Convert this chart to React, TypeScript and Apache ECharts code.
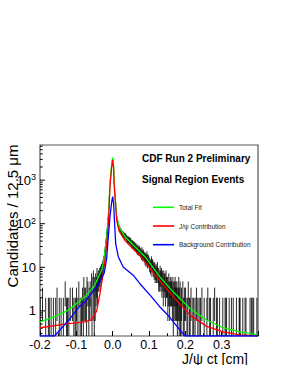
import React, { useEffect, useRef } from "react";
import * as echarts from "echarts";

const FONT = '"Liberation Sans", Arial, Helvetica, sans-serif';

const X_MIN = -0.2;
const X_MAX = 0.4;
const X_STEP = 0.1;
const BIN_WIDTH = 0.00125;
const Y_MIN = 0.265;
const Y_MAX = 6400;

const X_TICK_LABELS = ["-0.2", "-0.1", "0.0", "0.1", "0.2", "0.3"];

// Candidates per 12.5 um bin, from -0.2 cm upward
const LEFT_COUNTS = [
  1, 0, 0, 0, 0, 2, 0, 0, 0, 0,
  0, 0, 1, 0, 0, 0, 0, 0, 1, 0,
  1, 0, 0, 0, 1, 0, 0, 0, 0, 1,
  0, 0, 0, 0, 1, 0, 0, 2, 0, 0,
  0, 0, 1, 0, 0, 0, 1, 0, 0, 0,
  0, 1, 0, 0, 0, 3, 0, 0, 1, 0,
  1, 0, 0, 1, 0, 0, 2, 0, 0, 0,
  0, 2, 0, 0, 1, 0, 0, 1, 0, 1,
  2, 0, 0, 1, 0, 3, 0, 0, 1, 0,
  0, 1, 0, 2, 0, 1, 4, 0, 2, 0,
  2, 0, 1, 4, 0, 3, 0, 1, 2, 0,
  3, 0, 2, 5, 1, 0, 4, 6, 2, 1,
  4, 2, 5, 3, 4, 7, 3, 5, 6, 5,
  6, 7, 5, 8, 7, 9, 8, 10, 11, 12,
];
const PEAK_COUNTS = [
  14, 15, 21, 25, 34, 40, 57, 68, 97, 128,
  150, 240, 380, 590, 980, 1240, 1620, 2120, 2650, 3150,
  3050, 2420, 1580, 870, 590, 430, 290, 215, 150, 132,
  118, 108, 92, 89, 80, 79, 71, 72, 65, 66,
];
const TAIL_COUNTS = [
  62, 58, 60, 55, 57, 52, 54, 50, 53, 49,
  48, 45, 43, 46, 41, 44, 40, 42, 38, 41,
  37, 35, 33, 36, 32, 34, 31, 33, 29, 31,
  28, 30, 26, 27, 24, 28, 25, 23, 26, 24,
  23, 21, 22, 19, 24, 20, 18, 21, 19, 17,
  18, 15, 17, 14, 16, 19, 13, 16, 15, 14,
  13, 11, 12, 10, 11, 14, 9, 12, 11, 10,
  9, 8, 10, 7, 8, 9, 7, 8, 10, 7,
  7, 5, 6, 5, 8, 6, 5, 7, 4, 6,
  5, 3, 6, 4, 5, 5, 3, 6, 4, 4,
  4, 2, 3, 5, 3, 2, 4, 3, 4, 3,
  3, 2, 4, 1, 3, 2, 3, 4, 2, 3,
  2, 3, 1, 2, 2, 4, 1, 2, 3, 1,
  1, 2, 0, 0, 3, 1, 0, 1, 2, 0,
  2, 0, 0, 1, 0, 1, 3, 0, 0, 1,
  1, 0, 2, 0, 0, 0, 1, 0, 1, 0,
  0, 1, 0, 0, 2, 0, 0, 1, 0, 0,
  1, 0, 0, 1, 0, 0, 2, 0, 0, 0,
  0, 1, 0, 0, 0, 0, 0, 1, 0, 2,
  0, 0, 0, 1, 0, 1, 0, 0, 0, 0,
  0, 1, 0, 0, 2, 0, 0, 0, 1, 0,
  1, 0, 0, 0, 0, 1, 0, 0, 0, 0,
  0, 0, 1, 0, 0, 0, 0, 1, 0, 1,
  1, 0, 0, 0, 0, 0, 1, 0, 0, 0,
  0, 1, 0, 0, 0, 1, 0, 0, 0, 0,
  0, 0, 1, 0, 0, 0, 0, 0, 1, 1,
  1, 0, 0, 0, 0, 0, 1, 0, 0, 0,
  0, 1, 0, 1, 0, 0, 0, 0, 0, 0,
  0, 0, 1, 0, 0, 1, 0, 0, 1, 0,
  1, 0, 0, 0, 0, 0, 0, 1, 0, 0,
];

const TOTAL_FIT_X = [-0.2, -0.16, -0.122, -0.09, -0.076, -0.049, -0.035, -0.03, -0.024, -0.0165, -0.012, -0.0074, -0.003, 0, 0.0025, 0.0044, 0.011, 0.0173, 0.034, 0.061, 0.075, 0.089, 0.13, 0.167, 0.213, 0.259, 0.304, 0.35, 0.4];
const TOTAL_FIT_Y = [0.56, 0.73, 1.04, 1.7, 2.1, 3.9, 7.2, 8.6, 15, 50, 145, 850, 2200, 3300, 2200, 850, 145, 85, 50, 30, 22.8, 17.5, 6.0, 2.7, 1.13, 0.61, 0.41, 0.33, 0.28];

const JPSI_X = [-0.2, -0.122, -0.076, -0.058, -0.044, -0.035, -0.026, -0.021, -0.0165, -0.012, -0.0074, -0.003, 0, 0.0025, 0.0044, 0.011, 0.0173, 0.034, 0.061, 0.075, 0.13, 0.167, 0.213, 0.259, 0.304, 0.35, 0.4];
const JPSI_Y = [0.41, 0.51, 0.56, 0.63, 1.0, 2.5, 7.2, 14.6, 34, 95, 705, 1900, 2880, 1900, 705, 120, 69, 41, 24, 18.6, 4.9, 2.1, 0.8, 0.44, 0.33, 0.28, 0.25];

const BKG_X = [-0.2, -0.16, -0.122, -0.09, -0.076, -0.049, -0.035, -0.023, -0.0165, -0.012, -0.0074, -0.003, 0, 0.0025, 0.0044, 0.0083, 0.0154, 0.029, 0.057, 0.075, 0.103, 0.13, 0.149, 0.167, 0.199, 0.25, 0.3, 0.4];
const BKG_Y = [0.15, 0.265, 0.6, 1.3, 1.6, 3.2, 4.7, 7.5, 16, 50, 145, 300, 420, 300, 145, 35, 17.5, 10.2, 6.5, 4.2, 2.3, 1.23, 0.85, 0.56, 0.265, 0.1, 0.04, 0.01];

const SERIES_NAMES = ["Total Fit", "J/\u03c8 Contribution", "Background Contribution"];
const SERIES_COLORS = ["#00ff00", "#ff0000", "#0000ff"];

const clampY = (v: number) => Math.min(Math.max(v, Y_MIN), Y_MAX);
const toPairs = (xs: number[], ys: number[]) => xs.map((x, i) => [x, clampY(ys[i])]);

export default function App() {
  const ref = useRef<HTMLDivElement>(null);

  useEffect(() => {
    if (!ref.current) return;
    const chart = echarts.init(ref.current, undefined, { renderer: "svg" });

    const counts = [...LEFT_COUNTS, ...PEAK_COUNTS, ...TAIL_COUNTS];
    const errorBars: number[][] = [];
    counts.forEach((n, i) => {
      if (n <= 0) return;
      const x = X_MIN + (i + 0.5) * BIN_WIDTH;
      const e = Math.sqrt(n);
      errorBars.push([x, clampY(n - e), clampY(n + e)]);
    });

    const yTicks: number[][] = [];
    for (let e = -1; e <= 3; e++) {
      for (let m = 1; m <= 9; m++) {
        const v = m * Math.pow(10, e);
        if (v >= Y_MIN && v <= Y_MAX) yTicks.push([X_MIN, v, m === 1 ? 1 : 0]);
      }
    }

    const fits = [
      toPairs(TOTAL_FIT_X, TOTAL_FIT_Y),
      toPairs(JPSI_X, JPSI_Y),
      toPairs(BKG_X, BKG_Y),
    ];

    chart.setOption({
      animation: false,
      backgroundColor: "#ffffff",
      textStyle: { fontFamily: FONT },
      grid: {
        left: 40,
        top: 145,
        width: 218,
        height: 191,
        show: true,
        borderColor: "#555",
        borderWidth: 1.2,
        backgroundColor: "transparent",
      },
      legend: {
        orient: "vertical",
        left: 153,
        top: 202.3,
        icon: "rect",
        itemWidth: 21,
        itemHeight: 1.6,
        itemGap: 8.7,
        padding: 0,
        data: SERIES_NAMES,
        textStyle: { fontSize: 6.5, lineHeight: 10, color: "#222", fontFamily: FONT },
        selectedMode: false,
      },
      xAxis: {
        type: "value",
        min: X_MIN,
        max: X_MAX,
        interval: X_STEP,
        axisLine: { show: false },
        axisTick: { show: true, inside: true, length: 5, lineStyle: { color: "#000" } },
        minorTick: { show: true, splitNumber: 2, length: 2.7, lineStyle: { color: "#000" } },
        splitLine: { show: false },
        axisLabel: {
          fontSize: 12.5,
          lineHeight: 13,
          color: "#000",
          margin: 2.5,
          fontFamily: FONT,
          formatter: (v: number) => {
            const idx = Math.round((v - X_MIN) / X_STEP);
            return X_TICK_LABELS[idx] ?? "";
          },
        },
      },
      yAxis: {
        type: "log",
        logBase: 10,
        min: Y_MIN,
        max: Y_MAX,
        axisLine: { show: false },
        axisTick: { show: false },
        splitLine: { show: false },
        axisLabel: {
          color: "#000",
          margin: 4,
          fontFamily: FONT,
          formatter: (v: number) => {
            const l = Math.log10(v);
            const e = Math.round(l);
            if (Math.abs(l - e) > 1e-6) return "";
            if (e === 0) return "{b|1}";
            if (e === 1) return "{b|10}";
            return "{b|10}{s|" + e + "}";
          },
          rich: {
            b: { fontSize: 13, fontFamily: FONT, color: "#000", lineHeight: 15 },
            s: { fontSize: 9, fontFamily: FONT, color: "#000", verticalAlign: "top", lineHeight: 15 },
          },
        },
      },
      graphic: [
        {
          type: "text",
          x: 142,
          y: 158,
          style: {
            text: "CDF Run 2 Preliminary",
            font: "bold 10px " + FONT,
            fill: "#000",
            verticalAlign: "middle",
          },
        },
        {
          type: "text",
          x: 142,
          y: 179.5,
          style: {
            text: "Signal Region Events",
            font: "bold 10px " + FONT,
            fill: "#000",
            verticalAlign: "middle",
          },
        },
        {
          type: "text",
          x: 12,
          y: 216,
          rotation: Math.PI / 2,
          style: {
            text: "Candidates / 12.5 \u03bcm",
            font: "15px " + FONT,
            fill: "#000",
            align: "center",
            verticalAlign: "middle",
          },
        },
        {
          type: "text",
          x: 248,
          y: 358.5,
          style: {
            text: "J/\u03c8 ct [cm]",
            font: "14px " + FONT,
            lineHeight: 13,
            fill: "#000",
            align: "right",
            verticalAlign: "middle",
          },
        },
      ],
      series: [
        {
          type: "custom",
          name: "Data",
          data: errorBars,
          encode: { x: 0, y: [1, 2] },
          clip: true,
          silent: true,
          renderItem: (params: any, api: any) => {
            const p1 = api.coord([api.value(0), api.value(1)]);
            const p2 = api.coord([api.value(0), api.value(2)]);
            return {
              type: "line",
              shape: { x1: p1[0], y1: p1[1], x2: p2[0], y2: p2[1] },
              style: { stroke: "#111", lineWidth: 0.9 },
            };
          },
        },
        {
          type: "custom",
          name: "yticks",
          data: yTicks,
          encode: { x: 0, y: 1 },
          silent: true,
          renderItem: (params: any, api: any) => {
            const p = api.coord([api.value(0), api.value(1)]);
            const len = api.value(2) ? 5 : 2.7;
            return {
              type: "line",
              shape: { x1: p[0], y1: p[1], x2: p[0] + len, y2: p[1] },
              style: { stroke: "#000", lineWidth: 1 },
            };
          },
        },
        ...SERIES_NAMES.map((name, i) => ({
          type: "line",
          name,
          data: fits[i],
          symbol: "none",
          smooth: false,
          clip: true,
          color: SERIES_COLORS[i],
          lineStyle: { color: SERIES_COLORS[i], width: 1.3 },
          z: 3 + i,
        })),
      ],
    });

    return () => chart.dispose();
  }, []);

  return (
    <div
      ref={ref}
      style={{ position: "absolute", left: 0, top: 0, width: 282, height: 365 }}
    />
  );
}
